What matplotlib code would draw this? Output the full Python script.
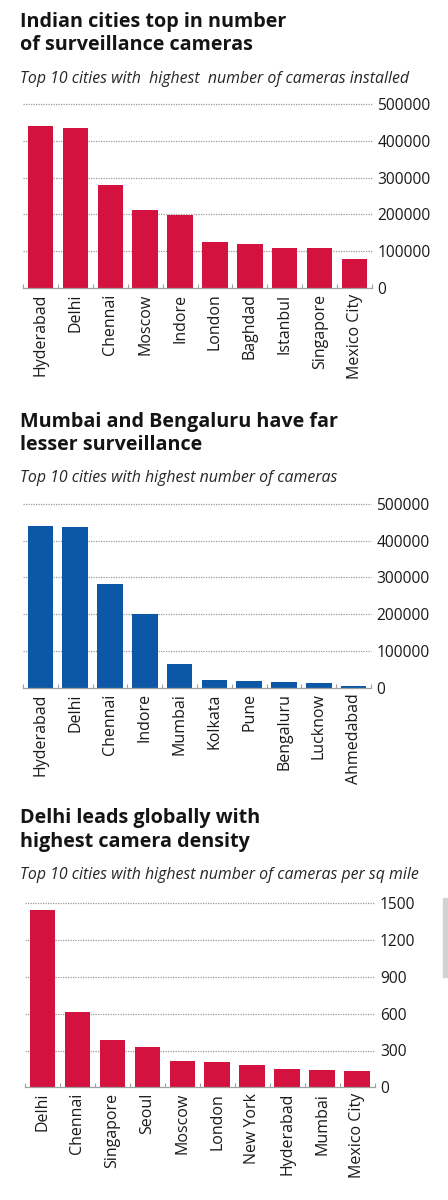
import matplotlib.pyplot as plt
import matplotlib.patches as mpatches
import numpy as np

# chart 1 - all cities, cameras installed
cities1 = ["Hyderabad", "Delhi", "Chennai", "Moscow", "Indore", "London",
           "Baghdad", "Istanbul", "Singapore", "Mexico City"]
cams1 = [440000, 435000, 281000, 212000, 199000, 126000, 120000, 108000, 108000, 79000]

# chart 2 - indian cities
cities2 = ["Hyderabad", "Delhi", "Chennai", "Indore", "Mumbai", "Kolkata",
           "Pune", "Bengaluru", "Lucknow", "Ahmedabad"]
cams2 = [440000, 437000, 282000, 200000, 63500, 21000, 17000, 15000, 12000, 5500]

# chart 3 - density per sq mile
cities3 = ["Delhi", "Chennai", "Singapore", "Seoul", "Moscow", "London",
           "New York", "Hyderabad", "Mumbai", "Mexico City"]
dens3 = [1445, 611, 383, 331, 214, 206, 184, 152, 141, 135]

ticks_cams = [0, 100000, 200000, 300000, 400000, 500000]
ticks_dens = [0, 300, 600, 900, 1200, 1500]

RED = "#d3123f"
BLUE = "#0c58a6"
plt.rcParams["font.family"] = ["Open Sans", "DejaVu Sans"]

W, H = 448, 1200
fig = plt.figure(figsize=(W / 100, H / 100), dpi=100)


def px_axes(x0, x1, y_top, y_bot):
    return fig.add_axes([x0 / W, 1 - y_bot / H, (x1 - x0) / W, (y_bot - y_top) / H])


def titles(y1, y2, ys, line1, line2, sub):
    fig.text(20 / W, 1 - y1 / H, line1, fontsize=14.2, fontweight="bold",
             color="#141414", va="baseline")
    fig.text(20 / W, 1 - y2 / H, line2, fontsize=14.2, fontweight="bold",
             color="#141414", va="baseline")
    fig.text(20 / W, 1 - ys / H, sub, fontsize=11.4, style="italic",
             color="#262626", va="baseline")


def bar_chart(ax, names, vals, ticks, color):
    x = np.arange(len(names))
    ax.bar(x, vals, width=0.73, color=color, zorder=3)
    ax.set_xlim(-0.5, len(names) - 0.5)
    ax.set_ylim(0, ticks[-1])
    for t in ticks[1:]:
        ax.axhline(t, color="#9a9a9a", lw=0.9, ls=(0, (1, 1)), zorder=1, clip_on=False)
    ax.axhline(0, color="#a0a0a0", lw=0.9, zorder=4, clip_on=False)
    for s in ax.spines.values():
        s.set_visible(False)
    ax.yaxis.tick_right()
    ax.set_yticks(ticks)
    ax.set_yticklabels([str(t) for t in ticks], fontsize=11.2, color="#1a1a1a")
    ax.tick_params(axis="y", length=0, pad=4)
    ax.set_xticks(x)
    ax.set_xticklabels(names, rotation=90, fontsize=11.5, color="#1a1a1a")
    ax.tick_params(axis="x", length=0, pad=4)
    ax.set_xticks(np.arange(-0.5, len(names)), minor=True)
    ax.tick_params(axis="x", which="minor", direction="in", length=3,
                   color="#a0a0a0", width=0.8)


titles(27, 50, 83, "Indian cities top in number", "of surveillance cameras",
       "Top 10 cities with  highest  number of cameras installed")
ax1 = px_axes(23, 372, 104, 288)
bar_chart(ax1, cities1, cams1, ticks_cams, RED)

titles(427, 450, 482, "Mumbai and Bengaluru have far", "lesser surveillance",
       "Top 10 cities with highest number of cameras")
ax2 = px_axes(23, 371, 504, 687.7)
bar_chart(ax2, cities2, cams2, ticks_cams, BLUE)

titles(823, 847, 879, "Delhi leads globally with", "highest camera density",
       "Top 10 cities with highest number of cameras per sq mile")
ax3 = px_axes(25, 374.5, 903.3, 1087.3)
bar_chart(ax3, cities3, dens3, ticks_dens, RED)

# page edge artifact on the right
fig.patches.append(mpatches.Rectangle((443 / W, 1 - 977 / H), 4 / W, 79 / H,
                                      transform=fig.transFigure, color="#d2d2d2"))

fig.savefig("out.png", dpi=100)
